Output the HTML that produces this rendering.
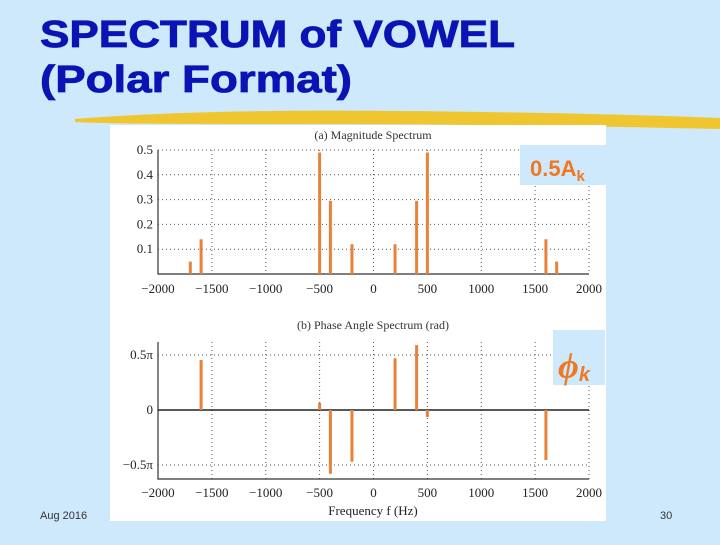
<!DOCTYPE html>
<html><head><meta charset="utf-8"><style>
html,body{margin:0;padding:0;background:#cde9fb;}
body{width:720px;height:540px;overflow:hidden;position:relative;font-family:"Liberation Sans",sans-serif;}
</style></head><body>
<svg id="s" width="720" height="540" xmlns="http://www.w3.org/2000/svg">
<rect x="0" y="0" width="720" height="540" fill="#cde9fb"/>
<text x="40" y="47" font-family="Liberation Sans, sans-serif" font-weight="bold" font-size="38" fill="#0a14b4" stroke="#0a14b4" stroke-width="0.8" textLength="475" lengthAdjust="spacingAndGlyphs">SPECTRUM of VOWEL</text>
<text x="40" y="92" font-family="Liberation Sans, sans-serif" font-weight="bold" font-size="38" fill="#0a14b4" stroke="#0a14b4" stroke-width="0.8" textLength="312" lengthAdjust="spacingAndGlyphs">(Polar Format)</text>
<path d="M75,119 Q200,109 400,111 T720,118 L720,129 Q500,124 300,124 T75,122 Z" fill="#f0c630"/>
<rect x="110" y="125" width="496" height="396" fill="#ffffff"/>
<g id="g"></g>
<rect x="520" y="145" width="86" height="40" fill="#cde9fb"/>
<text x="530" y="176" font-family="Liberation Sans, sans-serif" font-weight="bold" font-size="22" fill="#f07820">0.5A<tspan font-size="15" dy="5">k</tspan></text>
<rect x="553" y="330" width="52" height="55" fill="#cde9fb"/>
<text x="558" y="378" font-family="Liberation Serif, serif" font-weight="bold" font-style="italic" font-size="36" fill="#f07820">ϕ<tspan font-family="Liberation Sans, sans-serif" font-size="20" dy="3">k</tspan></text>
<text x="40" y="519" font-size="11" fill="#333" font-family="Liberation Sans, sans-serif">Aug 2016</text>
<text x="660" y="519" font-size="11" fill="#333" font-family="Liberation Sans, sans-serif">30</text>
</svg>
<script>
const freqs=[-1700,-1600,-500,-400,-200,200,400,500,1600,1700];
const mags=[0.05,0.14,0.49,0.295,0.12,0.12,0.295,0.49,0.14,0.05];
const phases=[0,0.455,0.064,-0.58,-0.47,0.47,0.59,-0.064,-0.455,0];
const xTicks=[-2000,-1500,-1000,-500,0,500,1000,1500,2000];
const xTickLabels=["\u22122000","\u22121500","\u22121000","\u2212500","0","500","1000","1500","2000"];
const magTicks=[0.1,0.2,0.3,0.4,0.5];
const phaseTicks=[-0.5,0,0.5];
const phaseTickLabels=["\u22120.5\u03c0","0","0.5\u03c0"];
const NS="http://www.w3.org/2000/svg";
const g=document.getElementById('g');
const x=f=>158+(f+2000)/4000*431;
const yM=v=>274-v/0.5*124;
const yP=v=>410-v/0.5*55;
function el(t,a,txt){const e=document.createElementNS(NS,t);for(const k in a)e.setAttribute(k,a[k]);if(txt!==undefined)e.textContent=txt;g.appendChild(e);return e;}
const serif="Liberation Serif, serif";
let e;
e=el('text',{x:373,y:139,'text-anchor':'middle','font-family':serif,'font-size':12,fill:'#333'},'(a) Magnitude Spectrum');


xTicks.forEach((t,i)=>{
 e=el('line',{x1:x(t),x2:x(t),y1:150,y2:274,stroke:'#555','stroke-width':1,'stroke-dasharray':'1,3'});
 
 
 e=el('text',{x:x(t),y:293,'text-anchor':'middle','font-family':serif,'font-size':13,fill:'#222'},xTickLabels[i]);
 
 
 e=el('text',{x:x(t),y:497,'text-anchor':'middle','font-family':serif,'font-size':13,fill:'#222'},xTickLabels[i]);
 
 
 e=el('line',{x1:x(t),x2:x(t),y1:342,y2:479,stroke:'#555','stroke-width':1,'stroke-dasharray':'1,3'});
 
 
});
magTicks.forEach(t=>{
 e=el('line',{x1:158,x2:589,y1:yM(t),y2:yM(t),stroke:'#555','stroke-width':1,'stroke-dasharray':'1,3'});
 
 
 e=el('text',{x:153,y:yM(t)+4,'text-anchor':'end','font-family':serif,'font-size':13,fill:'#222'},String(t));
 
 
});
e=el('path',{d:'M158,150 L158,274 L589,274',fill:'none',stroke:'#333','stroke-width':1.2});


freqs.forEach((f,i)=>{
 e=el('rect',{x:x(f)-1.5,y:yM(mags[i]),width:3,height:274-yM(mags[i]),fill:'#e8823a'});
 
 
});
e=el('text',{x:373,y:329,'text-anchor':'middle','font-family':serif,'font-size':12,fill:'#333'},'(b) Phase Angle Spectrum (rad)');


phaseTicks.forEach((t,i)=>{
 if(t!==0){e=el('line',{x1:158,x2:589,y1:yP(t),y2:yP(t),stroke:'#555','stroke-width':1,'stroke-dasharray':'1,3'});
 
 }
 e=el('text',{x:153,y:yP(t)+4,'text-anchor':'end','font-family':serif,'font-size':13,fill:'#222'},phaseTickLabels[i]);
 
 
});
e=el('path',{d:'M158,342 L158,479 L589,479',fill:'none',stroke:'#333','stroke-width':1.2});


e=el('line',{x1:158,x2:589,y1:410,y2:410,stroke:'#222','stroke-width':1.5});


freqs.forEach((f,i)=>{
 const y0=yP(0),y1=yP(phases[i]);
 e=el('rect',{x:x(f)-1.5,y:Math.min(y0,y1),width:3,height:Math.abs(y1-y0),fill:'#e8823a'});
 
 
});
e=el('text',{x:373,y:515,'text-anchor':'middle','font-family':serif,'font-size':13,fill:'#222'},'Frequency  f  (Hz)');


</script>
</body></html>
